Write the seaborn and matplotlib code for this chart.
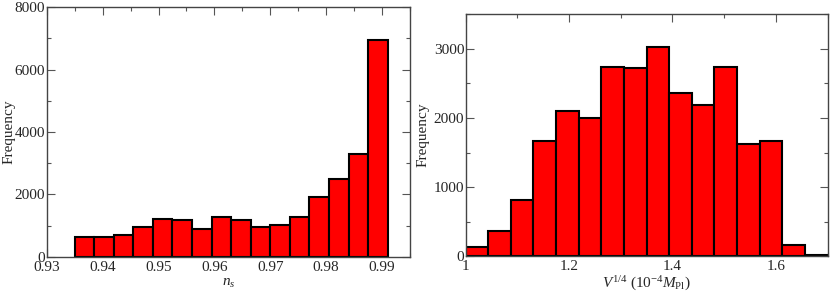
import numpy as np
import pandas as pd
import matplotlib
matplotlib.use("Agg")
import matplotlib.pyplot as plt
import seaborn as sns
from matplotlib.ticker import MultipleLocator, FormatStrFormatter

sns.set_style("ticks")
plt.rcParams["font.family"] = ["Liberation Serif", "DejaVu Serif"]
plt.rcParams["mathtext.fontset"] = "custom"
plt.rcParams["mathtext.rm"] = "Liberation Serif"
plt.rcParams["mathtext.it"] = "Liberation Serif:italic"

# left panel: spectral index n_s
ns_lo, ns_hi = 0.935, 0.991
ns_counts = [630, 650, 715, 970, 1225, 1175, 895, 1290, 1175, 950, 1025, 1280,
             1930, 2485, 3295, 6930]

# right panel: V^{1/4}
v_lo, v_hi = 1.0, 1.7
v_counts = [130, 370, 812, 1660, 2095, 2005, 2745, 2725, 3030, 2355, 2190, 2738,
            1625, 1672, 158, 20]


def hist_frame(lo, hi, counts):
    edges = np.linspace(lo, hi, len(counts) + 1)
    centers = (edges[:-1] + edges[1:]) / 2
    return pd.DataFrame({"x": centers, "n": counts})


fig = plt.figure(figsize=(8.3, 2.94), dpi=100)
ax1 = fig.add_axes([0.0563, 0.126, 0.4377, 0.850])
ax2 = fig.add_axes([0.561, 0.129, 0.436, 0.822])

df1 = hist_frame(ns_lo, ns_hi, ns_counts)
sns.histplot(data=df1, x="x", weights="n", bins=len(ns_counts),
             binrange=(ns_lo, ns_hi), color="#ff0000", alpha=1,
             edgecolor="black", linewidth=1.5, ax=ax1)
df2 = hist_frame(v_lo, v_hi, v_counts)
sns.histplot(data=df2, x="x", weights="n", bins=len(v_counts),
             binrange=(v_lo, v_hi), color="#ff0000", alpha=1,
             edgecolor="black", linewidth=1.5, ax=ax2)

ax1.set_xlim(0.93, 0.995)
ax1.set_ylim(0, 8000)
ax1.xaxis.set_major_locator(MultipleLocator(0.01))
ax1.xaxis.set_minor_locator(MultipleLocator(0.005))
ax1.xaxis.set_major_formatter(FormatStrFormatter("%.2f"))
ax1.yaxis.set_major_locator(MultipleLocator(2000))
ax1.yaxis.set_minor_locator(MultipleLocator(1000))
ax1.set_xlabel(r"$n_s$", fontsize=11, labelpad=2)
ax1.set_ylabel("Frequency", fontsize=11)
ax1.yaxis.set_label_coords(-0.087, 0.5)

ax2.set_xlim(1.0, 1.7)
ax2.set_ylim(0, 3500)
ax2.xaxis.set_major_locator(MultipleLocator(0.2))
ax2.xaxis.set_minor_locator(MultipleLocator(0.1))
ax2.xaxis.set_major_formatter(FormatStrFormatter("%g"))
ax2.yaxis.set_major_locator(MultipleLocator(1000))
ax2.yaxis.set_minor_locator(MultipleLocator(500))
ax2.set_xlabel(r"$V^{1/4}$ (10$^{-4}$$M_{\rm Pl}$)", fontsize=11, labelpad=1)
ax2.set_ylabel("Frequency", fontsize=11)
ax2.yaxis.set_label_coords(-0.099, 0.5)

for ax in (ax1, ax2):
    ax.tick_params(which="both", direction="in", top=True, right=True,
                   labelsize=11, color="#555555")
    ax.tick_params(axis="x", pad=3)
    ax.tick_params(axis="y", pad=1)
    ax.tick_params(which="major", length=6, width=0.8)
    ax.tick_params(which="minor", length=3, width=0.8)
    for s in ax.spines.values():
        s.set_color("#444444")
        s.set_linewidth(1.0)

fig.savefig("out.png", dpi=100)
